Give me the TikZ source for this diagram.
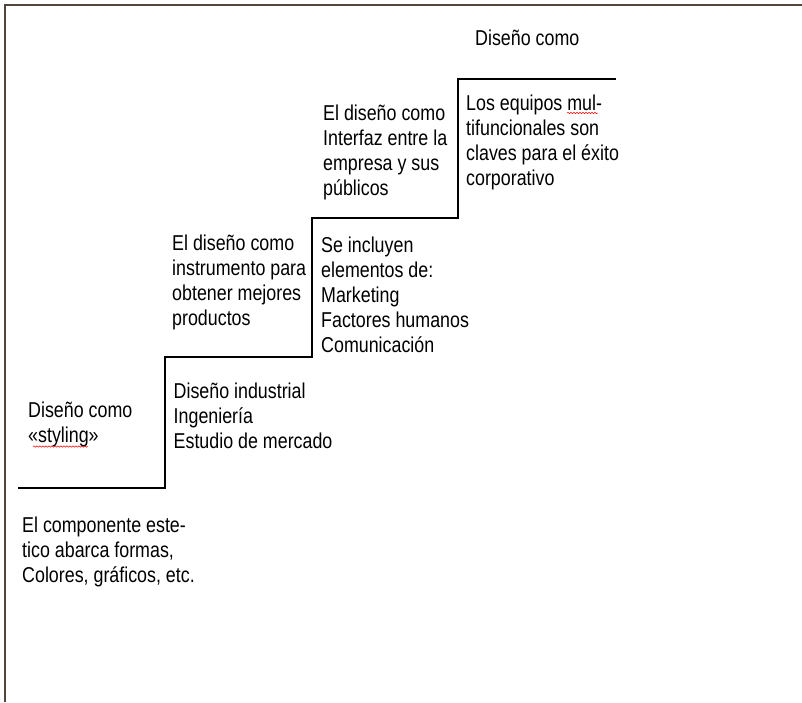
\documentclass[tikz,border=0pt]{standalone}
\usepackage{fontspec}
\setmainfont{Liberation Sans}[FakeStretch=0.83]
\usetikzlibrary{decorations.pathmorphing}
\newcommand\txtstack[1]{\vtop{\baselineskip=25pt\lineskiplimit=-30pt\lineskip=0pt\halign{##\hfil\cr#1\crcr}}}
\definecolor{framecol}{RGB}{80,70,62}
\tikzset{
  txt/.style={anchor=base west, inner sep=0pt, font=\fontsize{21.5}{25}\selectfont},
  stair/.style={line width=2pt, line cap=rect, line join=miter},
  wavy/.style={red, line width=0.5pt, decorate, decoration={snake, amplitude=0.7pt, segment length=3pt}}
}
\begin{document}
\begin{tikzpicture}[x=1pt,y=-1pt]
\useasboundingbox (0,0) rectangle (802,702);
\fill[white] (0,0) rectangle (802,702);
% frame
\draw[framecol, line width=2pt] (4.5,702) -- (4.5,4.5) -- (802,4.5);
% stair
\draw[stair] (19,487.5) -- (165,487.5) -- (165,356.5) -- (312,356.5) -- (312,217.5) -- (458,217.5) -- (458,79) -- (615,79);
% texts
\node[txt] (top) at (475,45) {Diseño como};
\node[txt] (equipos) at (466,110) {\txtstack{Los equipos mul-\cr tifuncionales son\cr claves para el éxito\cr corporativo}};
\node[txt] (interfaz) at (323,120) {\txtstack{El diseño como\cr Interfaz entre la\cr empresa y sus\cr públicos}};
\node[txt] (incluyen) at (321,252.5) {\txtstack{Se incluyen\cr elementos de:\cr Marketing\cr Factores humanos\cr Comunicación}};
\node[txt] (instrumento) at (172,250) {\txtstack{El diseño como\cr instrumento para\cr obtener mejores\cr productos}};
\node[txt] (industrial) at (173.5,398) {\txtstack{Diseño industrial\cr Ingeniería\cr Estudio de mercado}};
\node[txt] (styling) at (28,417) {\txtstack{Diseño como\cr «styling»}};
\node[txt] (componente) at (22,532.5) {\txtstack{El componente este-\cr tico abarca formas,\cr Colores, gráficos, etc.}};
% spell-check underlines
\draw[wavy] (33,446.5) -- (88,446.5);
\draw[wavy] (567,113) -- (598,113);
\end{tikzpicture}
\end{document}
